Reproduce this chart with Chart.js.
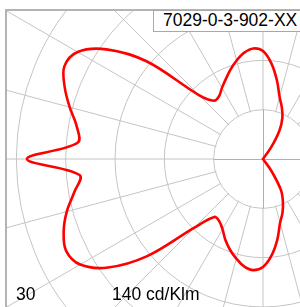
<!DOCTYPE html>
<html>
<head>
<meta charset="utf-8">
<script src="https://cdn.jsdelivr.net/npm/chart.js@4"></script>
<style>
  html, body { margin: 0; padding: 0; background: #fff; width: 300px; height: 307px; overflow: hidden; }
  body { position: relative; font-family: "Liberation Sans", Arial, sans-serif; }
  #frame {
    position: absolute; left: 5px; top: 9px; width: 320px; height: 320px;
    border-left: 2px solid #b4b4b4; border-top: 2px solid #b4b4b4; overflow: hidden;
  }
  #diagram { position: absolute; left: -40px; top: -148px; }
  .txt { position: absolute; font-size: 17.5px; line-height: 1; color: #000; white-space: nowrap; }
  #code {
    position: absolute; left: 153px; top: 10px; width: 170px; height: 20px;
    border: 1px solid #a8a8a8; background: #fff;
  }
</style>
</head>
<body>
<div id="frame">
  <canvas id="diagram" width="592" height="592"></canvas>
</div>
<div id="code"></div>
<div class="txt" style="left:163px; top:12px;">7029-0-3-902-XX</div>
<div class="txt" style="left:16px; top:286px;">30</div>
<div class="txt" style="left:112px; top:286px;">140 cd/Klm</div>

<script>
// Gamma angles of the two half planes (degrees, 0 = pointing left)
const gamma = [0, 5, 10, 15, 20, 25, 30, 35, 40, 45, 50, 55, 60, 65, 70, 75, 80, 85, 90,
    95, 100, 105, 110, 115, 120, 125, 130, 135, 140, 145, 150, 155, 160, 165, 170, 175, 180];

// Luminous intensity in cd/klm, upper half (C0) and lower half (C180)
const planeC0 = [134, 105.6, 107.4, 113.6, 119.8, 124.4, 121.5, 108.5, 86.3, 51.1, 43.2, 43.5,
    46.6, 50, 54, 57.9, 61.3, 63, 61.3, 54.5, 45.4, 36.4, 31.2, 26.1, 18.7, 8,
    0, 0, 0, 0, 0, 0, 0, 0, 0, 0, 0];
const planeC180 = [134, 104.5, 108.8, 115.3, 120.4, 123.3, 119.8, 107.4, 85.8, 55.1, 42.9, 43.2,
    46, 50.6, 54.8, 58.5, 61.9, 63.3, 61.3, 55.1, 46.6, 37.5, 32.4, 26.7, 20.4, 8.5,
    0, 0, 0, 0, 0, 0, 0, 0, 0, 0, 0];

// Ring spacing and outer ring of the polar grid
const ringStep = 28;
const ringMax = 168;

// Go round once: upper half left -> right, then lower half right -> left
const labels = [...gamma, ...gamma.slice(1, -1).reverse().map(g => 360 - g)];
const values = [...planeC0, ...planeC180.slice(1, -1).reverse()];

const gridColor = "#c4c4c4";

// Keep the innermost ring clear except for the two main axes
const innerRing = {
    id: "innerRing",
    beforeDatasetsDraw(chart) {
        const scale = chart.scales.r;
        const cx = scale.xCenter;
        const cy = scale.yCenter;
        const r1 = scale.getDistanceFromCenterForValue(ringStep);
        const ctx = chart.ctx;
        ctx.save();
        ctx.fillStyle = "#fff";
        ctx.beginPath();
        ctx.arc(cx, cy, r1 - 1, 0, Math.PI * 2);
        ctx.fill();
        ctx.strokeStyle = "#b0b0b0";
        ctx.lineWidth = 1;
        ctx.beginPath();
        ctx.moveTo(cx - r1, cy + 0.5);
        ctx.lineTo(cx + r1, cy + 0.5);
        ctx.moveTo(cx + 0.5, cy - r1);
        ctx.lineTo(cx + 0.5, cy + r1);
        ctx.stroke();
        ctx.restore();
    }
};

new Chart(document.getElementById("diagram"), {
    type: "radar",
    data: {
        labels: labels,
        datasets: [{
            data: values,
            borderColor: "#ff0000",
            borderWidth: 2.6,
            backgroundColor: "transparent",
            fill: false,
            pointRadius: 0,
            tension: 0.35
        }]
    },
    options: {
        responsive: false,
        animation: false,
        layout: { padding: 0 },
        plugins: {
            legend: { display: false },
            tooltip: { enabled: false }
        },
        scales: {
            r: {
                min: 0,
                max: ringMax,
                startAngle: 270,
                ticks: { display: false, stepSize: ringStep },
                pointLabels: { display: false },
                grid: { circular: true, color: gridColor, lineWidth: 1 },
                angleLines: {
                    color: (ctx) => (ctx.index % 3 === 0 ? gridColor : "transparent"),
                    lineWidth: (ctx) => (ctx.index % 3 === 0 ? 1 : 0)
                }
            }
        }
    },
    plugins: [innerRing]
});
</script>
</body>
</html>
